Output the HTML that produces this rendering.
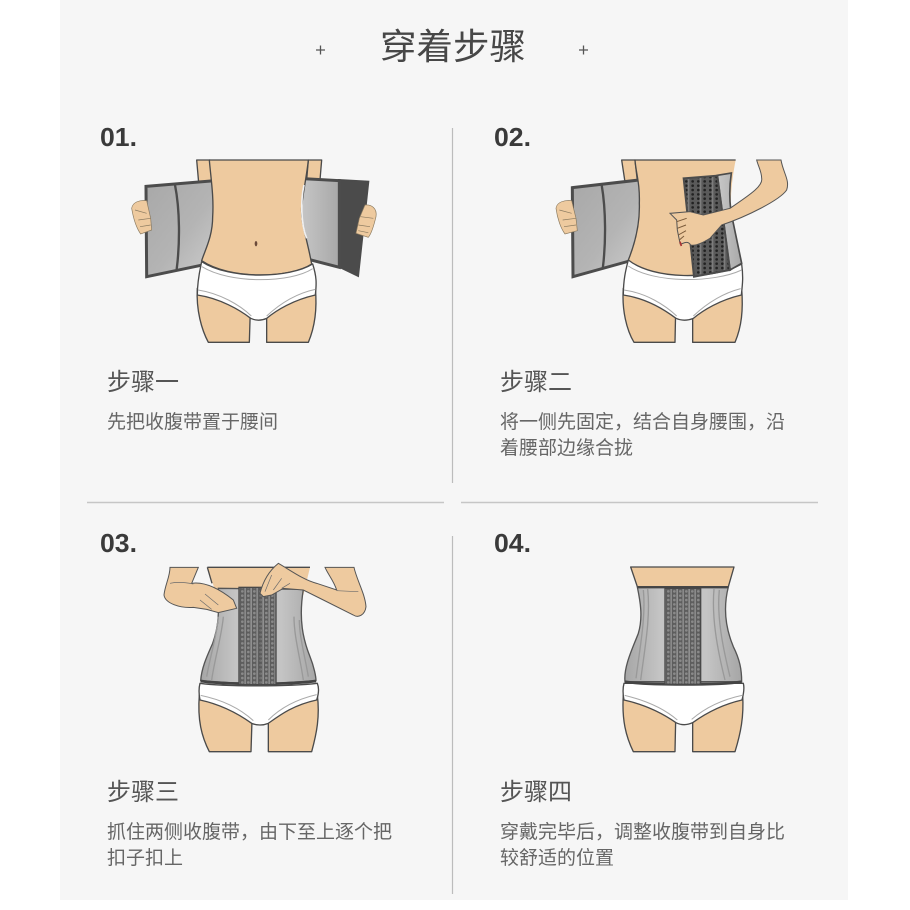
<!DOCTYPE html>
<html lang="zh">
<head>
<meta charset="utf-8">
<style>
html,body{margin:0;padding:0;background:#fff;}
#p{position:relative;width:910px;height:910px;overflow:hidden;background:#fff;}
svg{position:absolute;left:0;top:0;filter:blur(.35px);}
.cn{font-family:"Liberation Sans","Noto Sans CJK SC",sans-serif;}
.num{font-family:"Liberation Sans",sans-serif;font-weight:700;font-size:26px;fill:#3a3a3a;}
.h{font-family:"Liberation Sans","Noto Sans CJK SC",sans-serif;font-size:24px;fill:#555;}
.d{font-family:"Liberation Sans","Noto Sans CJK SC",sans-serif;font-size:19px;fill:#666;}
.o{stroke:#4a4a4a;stroke-width:4;stroke-linejoin:round;}
.skin{fill:#eeca9f;}
.wh{fill:#fff;}
.g2{fill:none;stroke:#999;stroke-width:4;}
.trim{fill:none;stroke:#aaa;stroke-width:3;}
</style>
</head>
<body>
<div id="p">
<svg width="910" height="910" viewBox="0 0 910 910" xmlns="http://www.w3.org/2000/svg">
<defs>
<linearGradient id="fg" x1="0" y1="0" x2="1" y2="1">
<stop offset="0" stop-color="#a8a8a8"/><stop offset=".55" stop-color="#b4b4b4"/><stop offset="1" stop-color="#cecece"/>
</linearGradient>
<linearGradient id="fg2" x1="0" y1="0" x2="1" y2="0">
<stop offset="0" stop-color="#c8c8c8"/><stop offset="1" stop-color="#a8a8a8"/>
</linearGradient>
<linearGradient id="cg" x1="0" y1="0" x2="1" y2="0">
<stop offset="0" stop-color="#a6a6a6"/><stop offset=".3" stop-color="#c4c4c4"/><stop offset=".7" stop-color="#c4c4c4"/><stop offset="1" stop-color="#a6a6a6"/>
</linearGradient>
<pattern id="hk" width="36" height="26" patternUnits="userSpaceOnUse">
<rect width="36" height="26" fill="#5d5d5d"/>
<rect x="13" width="5" height="26" fill="#909090"/>
<rect x="31" width="5" height="26" fill="#8a8a8a"/>
<circle cx="7" cy="6" r="4" fill="#8a8a8a"/>
<circle cx="7" cy="19" r="4" fill="#8a8a8a"/>
<circle cx="25" cy="6" r="4" fill="#8a8a8a"/>
<circle cx="25" cy="19" r="4" fill="#8a8a8a"/>
</pattern>
<pattern id="hk2" width="36" height="26" patternUnits="userSpaceOnUse">
<rect width="36" height="26" fill="#5a5a5a"/>
<rect x="11" width="5" height="26" fill="#7d7d7d"/>
<circle cx="7" cy="6" r="4" fill="#222"/>
<circle cx="7" cy="19" r="4" fill="#222"/>
<circle cx="26" cy="6" r="4" fill="#222"/>
<circle cx="26" cy="19" r="4" fill="#222"/>
</pattern>
</defs>

<rect x="60" y="0" width="788" height="900" fill="#f6f6f6"/>

<!-- title -->
<text x="380" y="59" class="cn" font-size="36" fill="#474747" textLength="146" lengthAdjust="spacingAndGlyphs">穿着步骤</text>
<path d="M316 50h9M320.500 45.500v9M579 50h9M583.500 45.500v9" stroke="#555" stroke-width="1.300" fill="none"/>

<!-- divider lines -->
<path d="M452.500 128V483M452.500 536V894" stroke="#bcbcbc" stroke-width="1.200"/>
<path d="M87 502.500H444M461 502.500H818" stroke="#c6c6c6" stroke-width="1.500"/>

<!-- PANEL 1 -->
<g transform="translate(90,110) scale(.33333)">
<path class="skin o" d="M320,150H360L366,216L326,218Z"/>
<path class="skin o" d="M655,150H695L690,210L650,210Z"/>
<!-- flaps (behind torso) -->
<path fill="url(#fg)" stroke="#4c4c4c" stroke-width="9" stroke-linejoin="miter" d="M168,229L385,211V455L170,500Z"/>
<path d="M255,225C270,300 270,400 260,478" stroke="#4c4c4c" stroke-width="7" fill="none"/>
<path fill="#4b4b4b" stroke="#4b4b4b" stroke-width="4" d="M745,209L836,214L805,499L745,470Z"/>
<path fill="url(#fg2)" stroke="#4c4c4c" stroke-width="9" stroke-linejoin="miter" d="M625,205L748,212V472L625,440Z"/>
<!-- torso -->
<path d="M358,150H655C650,200 640,240 635,290C632,340 650,380 665,462C600,505 420,510 335,452C345,420 368,380 368,320C372,260 362,200 358,150Z" class="skin o"/>
<path d="M642,225C632,270 632,340 650,385" stroke="#f0f0f0" stroke-width="5" fill="none"/>
<!-- thighs + brief -->
<path class="skin o" d="M322,535C318,600 335,660 355,697H478L481,600Z"/>
<path class="skin o" d="M676,535C682,600 675,650 655,697H530L530,600Z"/>
<path class="wh o" d="M335,455C420,510 600,505 668,462C680,500 680,520 676,555C610,570 560,600 530,625Q505,636 482,625C450,600 390,565 322,555C322,510 330,480 335,455Z"/>
<path class="trim" d="M336,470C420,522 600,520 668,476M324,540C390,550 450,585 484,618M676,538C610,552 560,590 530,618"/>
<!-- hands -->
<path class="skin" stroke="#8a7a60" stroke-width="2" d="M170,272C150,270 128,275 125,295C130,325 140,355 152,372L185,360L182,325Z"/>
<path d="M135,300L170,310M145,330L182,325M150,350L182,345" stroke="#8a7a60" stroke-width="2"/>
<path class="skin" stroke="#8a7a60" stroke-width="2" d="M825,285C845,283 862,295 858,320C852,345 845,370 835,382L798,370L808,325Z"/>
<path d="M812,320L850,325M805,345L840,350M805,362L835,368" stroke="#8a7a60" stroke-width="2"/>
<ellipse cx="498" cy="401" rx="4" ry="8" fill="#6b4a3a"/>
</g>

<!-- PANEL 2 -->
<g transform="translate(480,110) scale(.33333)">
<path class="skin o" d="M425,150H465L472,212L435,216Z"/>
<path fill="url(#fg)" stroke="#4c4c4c" stroke-width="9" d="M277,233L495,208V440L279,500Z"/>
<path d="M365,225C378,300 378,400 368,478" stroke="#4c4c4c" stroke-width="7" fill="none"/>
<path d="M465,150H767C755,210 745,300 760,340L785,460C700,510 520,510 445,450C465,400 480,340 478,280C480,220 468,190 465,150Z" class="skin"/>
<path d="M767,150H465C468,190 480,220 478,280C480,340 465,400 445,450" class="o" fill="none"/>
<!-- thighs + brief -->
<path class="skin o" d="M430,535C425,600 440,660 462,697H585L587,600Z"/>
<path class="skin o" d="M785,535C790,600 785,650 765,697H638V600Z"/>
<path class="wh o" d="M445,450C520,510 700,510 785,462C790,500 788,520 784,555C720,570 670,600 640,625Q612,636 588,625C555,600 500,565 430,555C430,510 437,480 445,450Z"/>
<path class="trim" d="M445,468C520,520 700,520 785,480M432,540C500,550 555,585 590,618M782,536C720,552 670,590 640,618"/>
<!-- corset -->
<path fill="url(#fg2)" stroke="#4c4c4c" stroke-width="5" d="M712,196L754,189C745,250 750,300 760,340L785,460L750,480Z"/>
<path fill="url(#hk2)" stroke="#4c4c4c" stroke-width="6" d="M611,205L712,197L750,480L642,500Z"/>
<!-- left hand -->
<path class="skin" stroke="#8a7a60" stroke-width="2" d="M275,272C255,270 230,275 228,295C232,325 242,355 255,372L292,362L288,325Z"/>
<path d="M238,300L275,310M248,330L288,325M252,350L288,345" stroke="#8a7a60" stroke-width="2"/>
<!-- arm -->
<path class="skin" stroke="#555" stroke-width="3" d="M830,150H903C910,190 930,210 920,240C900,270 800,320 725,345L690,385Q650,410 632,405C620,385 600,410 600,400L592,360L590,330L570,310L630,305L670,315L750,295C800,260 850,230 845,205C845,185 835,170 830,150Z"/>
<path d="M590,335L620,325M592,355L618,345M595,375L618,362M598,390L612,378" stroke="#7a5a3a" stroke-width="3"/>
<path d="M600,395L604,408" stroke="#a33" stroke-width="5"/>
</g>

<!-- PANEL 3 -->
<g transform="translate(90,520) scale(.33333)">
<path class="skin" d="M352,142H660L640,225H380Z"/>
<path d="M352,142H660M352,142L366,190" class="o" fill="none"/>
<path class="skin o" d="M328,525C322,600 335,650 358,695H483L486,600Z"/>
<path class="skin o" d="M682,525C690,590 680,640 665,695H535V600Z"/>
<path class="wh o" d="M330,490C400,500 600,500 682,490C688,505 685,525 680,540C610,555 570,585 535,610Q510,620 485,610C450,585 400,555 330,540C326,520 326,505 330,490Z"/>
<path class="trim" d="M332,526C400,540 450,565 490,602M680,524C620,538 570,565 535,600"/>
<!-- corset -->
<path fill="url(#cg)" stroke="#555" stroke-width="4" d="M385,205L640,208C625,300 640,360 660,410C672,440 678,470 678,482L500,494L332,482C335,440 355,400 368,370C382,330 388,300 385,205Z"/>
<path d="M332,483C400,494 600,494 678,483" stroke="#444" stroke-width="8" fill="none"/>
<path class="g2" d="M400,290C395,350 375,410 365,480M385,290C380,350 360,410 350,470M612,290C612,350 630,410 640,480M628,300C628,350 645,410 655,470"/>
<rect x="447" y="202" width="111" height="292" fill="url(#hk)" stroke="#484848" stroke-width="4"/>
<path d="M510,202V494" stroke="#555" stroke-width="3"/>
<!-- arms -->
<path class="skin" stroke="#555" stroke-width="3" d="M240,142H325L305,190C340,185 380,200 430,240L440,265L385,278L350,268L310,262C270,265 225,250 222,225C225,195 240,170 240,142Z"/>
<path d="M240,190C260,185 290,188 310,192M345,222L385,255M330,240L365,268" stroke="#6b6b6b" stroke-width="2" fill="none"/>
<path class="skin" stroke="#555" stroke-width="3" d="M705,142H792C800,180 825,220 828,260C825,285 805,295 790,285L700,240L640,210L580,205L545,225L520,230L510,220C520,180 540,150 565,130C600,150 640,180 680,190L740,210C730,180 715,165 705,142Z"/>
<path d="M740,212L805,215M545,165L525,215M575,175L550,210M600,190L575,205" stroke="#6b6b6b" stroke-width="2" fill="none"/>
</g>

<!-- PANEL 4 -->
<g transform="translate(480,520) scale(.33333)">
<path class="skin o" d="M452,141H762L745,200H472Z"/>
<path class="skin o" d="M430,525C425,600 438,650 460,695H585L587,600Z"/>
<path class="skin o" d="M788,525C792,590 782,640 765,695H638V600Z"/>
<path class="wh o" d="M432,490H790C794,505 790,525 786,540C720,555 670,585 638,608Q612,620 588,608C555,585 500,555 432,540C428,520 428,505 432,490Z"/>
<path class="trim" d="M434,526C500,542 555,568 592,600M786,526C720,540 670,568 635,598"/>
<path fill="url(#cg)" stroke="#555" stroke-width="4" d="M472,201H745C730,260 735,320 760,380C780,420 785,450 785,485H435C430,440 460,380 475,340C490,290 480,240 472,201Z"/>
<path d="M435,485C500,496 720,496 785,485" stroke="#444" stroke-width="8" fill="none"/>
<path d="M472,202H745" stroke="#444" stroke-width="6"/>
<path class="g2" d="M503,207C512,290 495,380 482,480M490,210C498,290 480,380 468,475M702,207C695,290 710,380 735,480M718,210C710,290 728,380 750,470"/>
<rect x="555" y="205" width="107" height="288" fill="url(#hk)" stroke="#484848" stroke-width="4"/>
</g>

<!-- numbers -->
<text x="100" y="146" class="num" textLength="37" lengthAdjust="spacingAndGlyphs">01.</text>
<text x="494" y="146" class="num" textLength="37" lengthAdjust="spacingAndGlyphs">02.</text>
<text x="100" y="552" class="num" textLength="37" lengthAdjust="spacingAndGlyphs">03.</text>
<text x="494" y="552" class="num" textLength="37" lengthAdjust="spacingAndGlyphs">04.</text>

<!-- headings -->
<text x="107" y="390" class="h">步骤一</text>
<text x="500" y="390" class="h">步骤二</text>
<text x="107" y="800" class="h">步骤三</text>
<text x="500" y="800" class="h">步骤四</text>

<!-- descriptions -->
<text x="107" y="428" class="d">先把收腹带置于腰间</text>
<text x="500" y="428" class="d">将一侧先固定，结合自身腰围，沿</text>
<text x="500" y="454" class="d">着腰部边缘合拢</text>
<text x="107" y="838" class="d">抓住两侧收腹带，由下至上逐个把</text>
<text x="107" y="864" class="d">扣子扣上</text>
<text x="500" y="838" class="d">穿戴完毕后，调整收腹带到自身比</text>
<text x="500" y="864" class="d">较舒适的位置</text>
</svg>
</div>
</body>
</html>
